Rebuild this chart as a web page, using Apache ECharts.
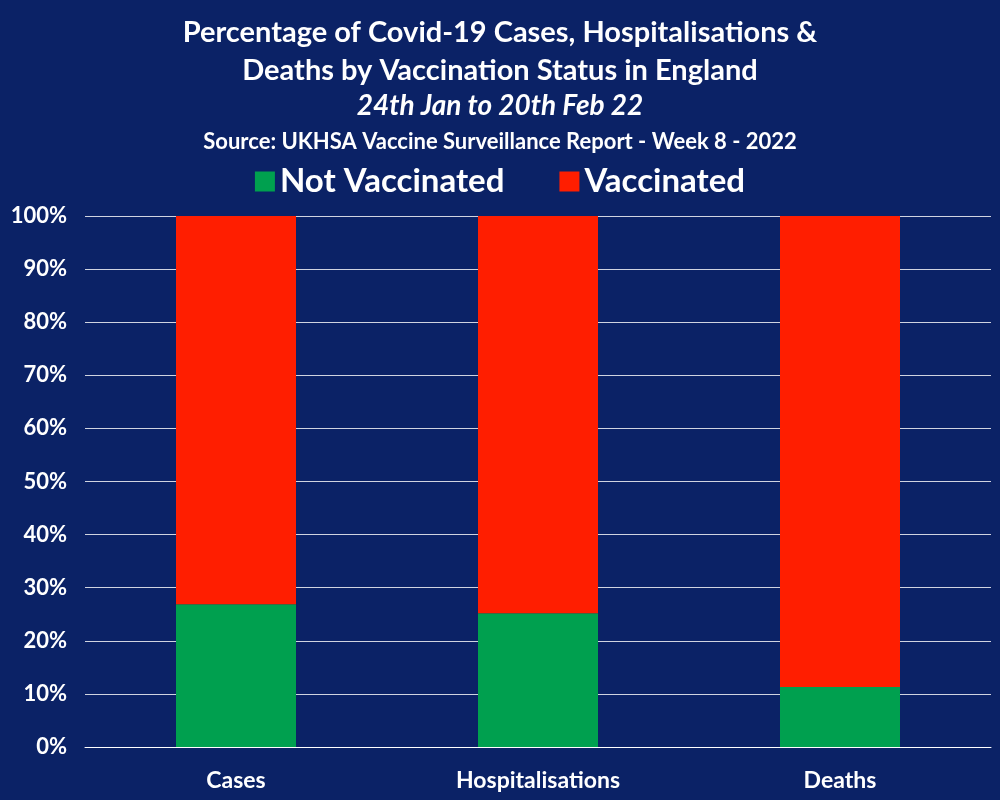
<!DOCTYPE html>
<html><head><meta charset="utf-8">
<script src="https://cdn.jsdelivr.net/npm/echarts@6/dist/echarts.min.js"></script>
<style>html,body{margin:0;background:#0b2266}#c{width:1000px;height:800px}</style>
</head><body><div id="c"></div>
<script>
var categories = ['Cases', 'Hospitalisations', 'Deaths'];
var notVaccinated = [26.9, 25.2, 11.3];
var vaccinated = [73.1, 74.8, 88.7];

var font = 'Lato, "Open Sans", sans-serif';
var chart = echarts.init(document.getElementById('c'));
chart.setOption({
    backgroundColor: '#0b2266',
    textStyle: {fontFamily: font},
    title: [
        {text: 'Percentage of Covid-19 Cases, Hospitalisations &\nDeaths by Vaccination Status in England', left: 'center', top: 9,
         textStyle: {color: '#fff', fontSize: 29, fontWeight: 'bold', lineHeight: 38, fontFamily: font}},
        {text: '24th Jan to 20th Feb 22', left: 'center', top: 87,
         textStyle: {color: '#fff', fontSize: 28, fontWeight: 'bold', fontStyle: 'italic', fontFamily: font}},
        {text: 'Source: UKHSA Vaccine Surveillance Report - Week 8 - 2022', left: 'center', top: 126,
         textStyle: {color: '#fff', fontSize: 22, fontWeight: 'bold', fontFamily: font}}
    ],
    legend: {
        top: 160, left: 'center', itemWidth: 20, itemHeight: 20, itemGap: 55, icon: 'rect',
        textStyle: {color: '#fff', fontSize: 33, fontWeight: 'bold', fontFamily: font},
        data: ['Not Vaccinated', 'Vaccinated']
    },
    grid: {left: 85, right: 9, top: 216, bottom: 53},
    xAxis: {
        type: 'category', data: categories,
        axisLine: {lineStyle: {color: '#ffffff'}}, axisTick: {show: false},
        axisLabel: {color: '#fff', fontSize: 23, fontWeight: 'bold', margin: 22}
    },
    yAxis: {
        type: 'value', min: 0, max: 100, interval: 10,
        axisLine: {show: false}, axisTick: {show: false},
        splitLine: {lineStyle: {color: '#d0d4e0', width: 1}},
        axisLabel: {color: '#fff', fontSize: 22, fontWeight: 'bold', formatter: '{value}%', margin: 18}
    },
    series: [
        {name: 'Not Vaccinated', type: 'bar', stack: 'a', barWidth: 120, data: notVaccinated,
         itemStyle: {color: '#00a04f'}},
        {name: 'Vaccinated', type: 'bar', stack: 'a', barWidth: 120, data: vaccinated,
         itemStyle: {color: '#ff1e00'}}
    ]
});
</script></body></html>
